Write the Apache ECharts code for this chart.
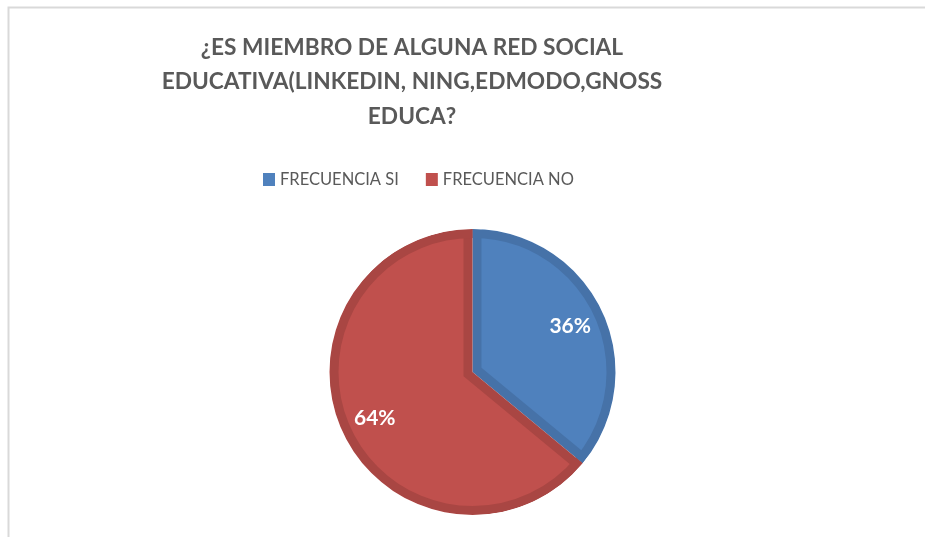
<!DOCTYPE html>
<html>
<head>
<meta charset="utf-8">
<title>Red social educativa</title>
<script src="https://cdn.jsdelivr.net/npm/echarts@6/dist/echarts.min.js"></script>
<style>
  html, body { margin: 0; padding: 0; background: #fff; }
  #chart { width: 925px; height: 537px; }
</style>
</head>
<body>
<div id="chart"></div>
<script>
  // datos del grafico
  var categorias = ['FRECUENCIA SI', 'FRECUENCIA NO']
  var valores = [36, 64]
  var colores = ['#4F81BD', '#C0504D'] // relleno
  var bordes = ['#4672A8', '#A94643'] // borde interior mas oscuro
  var titulo = '¿ES MIEMBRO DE ALGUNA RED SOCIAL\nEDUCATIVA(LINKEDIN, NING,EDMODO,GNOSS\nEDUCA?'

  var fuente = 'Lato, "Open Sans", sans-serif'
  var cx = 472.5
  var cy = 372
  var R = 143 // radio exterior
  var ancho = 9 // ancho del borde interior

  var total = valores.reduce(function (a, b) { return a + b }, 0)

  function datos (paleta) {
    return categorias.map(function (c, i) {
      return { name: c, value: valores[i], itemStyle: { color: paleta[i] } }
    })
  }

  // un sector claro por porcion, con el centro desplazado sobre la bisectriz
  // para que quede un borde oscuro de ancho constante en los lados rectos
  var acum = 0
  var sectoresClaros = valores.map(function (v, i) {
    var a0 = 90 - 360 * acum / total
    var mitad = 180 * v / total
    acum += v
    var m = (a0 - mitad) * Math.PI / 180
    var s = ancho / Math.sin(mitad * Math.PI / 180)
    return {
      type: 'pie',
      center: [cx + s * Math.cos(m), cy - s * Math.sin(m)],
      radius: R - ancho + 5,
      startAngle: 90,
      silent: true,
      z: 3,
      label: { show: false },
      labelLine: { show: false },
      data: categorias.map(function (c, j) {
        return {
          name: c,
          value: valores[j],
          itemStyle: { color: j === i ? colores[j] : 'rgba(0,0,0,0)' }
        }
      })
    }
  })

  var myChart = echarts.init(document.getElementById('chart'))
  myChart.setOption({
    backgroundColor: '#fff',
    animation: false,
    title: {
      text: titulo,
      left: 412,
      top: 30,
      padding: 0,
      textAlign: 'center',
      textStyle: {
        fontFamily: fuente,
        fontWeight: 'bold',
        fontSize: 22.7,
        lineHeight: 34.5,
        color: '#595959'
      }
    },
    legend: {
      top: 171,
      left: 263,
      padding: 0,
      itemWidth: 12,
      itemHeight: 13,
      itemGap: 27,
      icon: 'rect',
      textStyle: {
        fontFamily: fuente,
        fontSize: 16.5,
        color: '#595959'
      },
      data: categorias.map(function (c, i) {
        return { name: c, itemStyle: { color: colores[i] } }
      })
    },
    graphic: [{
      type: 'polyline',
      shape: { points: [[8.5, 537], [8.5, 7.5], [925, 7.5]] },
      style: { stroke: '#D9D9D9', lineWidth: 2, fill: null },
      silent: true
    }],
    series: [
      { // fondo oscuro completo
        type: 'pie',
        center: [cx, cy],
        radius: R,
        startAngle: 90,
        silent: true,
        z: 2,
        label: { show: false },
        labelLine: { show: false },
        data: datos(bordes)
      }
    ].concat(sectoresClaros, [
      { // anillo oscuro exterior
        type: 'pie',
        center: [cx, cy],
        radius: [R - ancho, R],
        startAngle: 90,
        silent: true,
        z: 4,
        label: { show: false },
        labelLine: { show: false },
        data: datos(bordes)
      },
      { // tapa blanca por fuera del circulo
        type: 'pie',
        center: [cx, cy],
        radius: [R, R + 14],
        startAngle: 90,
        silent: true,
        z: 4,
        label: { show: false },
        labelLine: { show: false },
        data: datos(['#fff', '#fff'])
      },
      { // etiquetas de porcentaje
        type: 'pie',
        center: [cx, cy],
        radius: 210,
        startAngle: 90,
        silent: true,
        z: 5,
        itemStyle: { color: 'rgba(0,0,0,0)' },
        label: {
          show: true,
          position: 'inside',
          formatter: '{d}%',
          fontFamily: fuente,
          fontWeight: 'bold',
          fontSize: 21,
          color: '#fff'
        },
        labelLine: { show: false },
        data: categorias.map(function (c, i) {
          return { name: c, value: valores[i] }
        })
      }
    ])
  })
</script>
</body>
</html>
